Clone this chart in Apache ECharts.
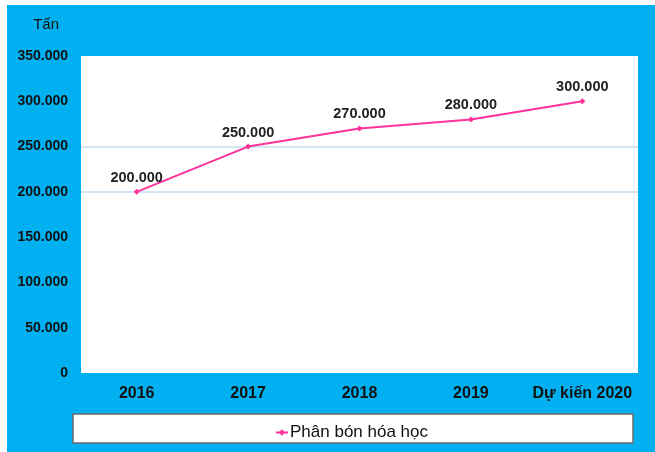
<!DOCTYPE html>
<html>
<head>
<meta charset="utf-8">
<script src="https://cdn.jsdelivr.net/npm/echarts@6/dist/echarts.min.js"></script>
<style>
  html, body { margin: 0; padding: 0; background: #fff; }
  #main { width: 655px; height: 452px; }
</style>
</head>
<body>
<div id="main"></div>
<script>
var years = ['2016', '2017', '2018', '2019', 'Dự kiến 2020'];
var fertilizer = [200000, 250000, 270000, 280000, 300000];
var seriesName = 'Phân bón hóa học';
var yMax = 350000;
var yStep = 50000;

var chart = echarts.init(document.getElementById('main'), null, { renderer: 'canvas' });

function fmt(v) {
  if (v === 0) return '0';
  return String(v).replace(/\B(?=(\d{3})+(?!\d))/g, '.');
}

// only the 200.000 and 250.000 gridlines show in the picture
var gridColors = [];
for (var i = 0; i <= yMax / yStep; i++) {
  gridColors.push(i === 4 || i === 5 ? '#c6dcf0' : 'rgba(0,0,0,0)');
}

var option = {
  backgroundColor: '#fff',
  textStyle: { fontFamily: 'Liberation Sans, Arial, sans-serif' },
  graphic: [{
    type: 'rect',
    silent: true,
    z: -10,
    shape: { x: 7, y: 5, width: 648, height: 447 },
    style: { fill: '#00b0f0' }
  }, {
    type: 'rect',
    silent: true,
    z: -5,
    shape: { x: 73, y: 414, width: 560, height: 29 },
    style: { fill: '#fff', stroke: '#6b6b6b', lineWidth: 1.5 }
  }],
  grid: {
    left: 81,
    right: 17,
    top: 56,
    bottom: 79,
    show: true,
    backgroundColor: '#fff',
    borderWidth: 0
  },
  legend: {
    data: [seriesName],
    top: 419,
    left: 270,
    itemWidth: 12,
    itemHeight: 8,
    itemGap: 2,
    textStyle: { fontSize: 17, color: '#111', padding: [0, 0, 0, -3] }
  },
  xAxis: {
    type: 'category',
    data: years,
    boundaryGap: true,
    axisLine: { show: false },
    axisTick: { show: false },
    axisLabel: { interval: 0, margin: 13, fontSize: 16, fontWeight: 'bold', color: '#111' }
  },
  yAxis: {
    type: 'value',
    min: 0,
    max: yMax,
    interval: yStep,
    name: 'Tấn',
    nameLocation: 'end',
    nameGap: 24,
    nameTextStyle: { fontSize: 15, color: '#111', align: 'right', padding: [0, 22, 0, 0] },
    axisLine: { show: false },
    axisTick: { show: false },
    axisLabel: { margin: 13, fontSize: 14, fontWeight: 'bold', color: '#111', formatter: fmt },
    splitLine: { show: true, lineStyle: { color: gridColors, width: 1.5 } }
  },
  series: [{
    name: seriesName,
    type: 'line',
    data: fertilizer,
    symbol: 'diamond',
    symbolSize: 6,
    lineStyle: { color: '#ff3399', width: 2 },
    itemStyle: { color: '#ff3399' },
    label: {
      show: true,
      position: 'top',
      distance: 3.5,
      fontSize: 14.5,
      fontWeight: 'bold',
      color: '#222',
      formatter: function (p) { return fmt(p.value); }
    }
  }]
};

chart.setOption(option);
</script>
</body>
</html>
